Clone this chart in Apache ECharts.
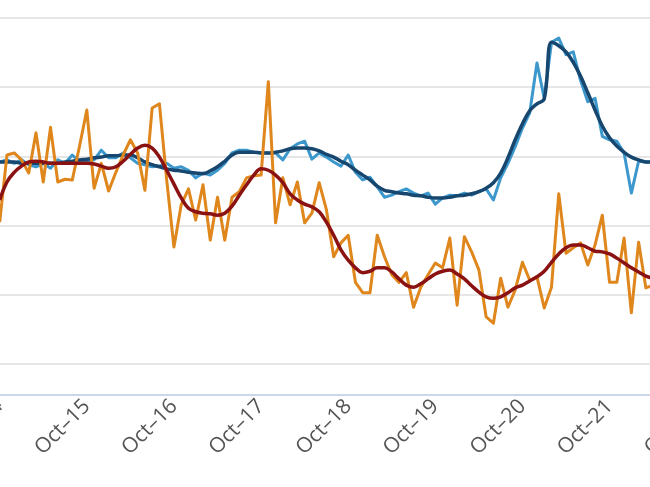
<!DOCTYPE html>
<html><head><meta charset="utf-8">
<script src="https://cdn.jsdelivr.net/npm/echarts@6/dist/echarts.min.js"></script>
<style>
html,body{margin:0;padding:0;width:650px;height:487px;overflow:hidden;background:#fff}
#c{position:absolute;left:-20px;top:0;width:780px;height:487px}
</style></head>
<body><div id="c"></div>
<script>
// Month categories Oct-14 .. Oct-22
const MONTHS = ['Jan','Feb','Mar','Apr','May','Jun','Jul','Aug','Sep','Oct','Nov','Dec'];
const categories = [];
for (let y = 14; y <= 22; y++) {
  for (let m = 0; m < 12; m++) {
    if (y === 14 && m < 9) continue;
    if (y === 22 && m > 9) break;
    categories.push(MONTHS[m] + '–' + y);
  }
}

// Raw series (orange), starting Oct-14
const orangeRaw = [20.5,30.2,30.5,29.5,27.6,33.4,26.3,34.2,26.3,26.7,26.6,31.5,36.7,25.4,29.0,25.0,27.7,30.2,32.4,30.5,25.1,37.0,37.6,26.6,16.9,23.0,25.3,20.8,25.9,17.9,24.1,17.9,24.1,24.9,26.9,27.2,27.3,40.8,20.4,26.9,23.0,26.3,20.4,21.8,26.2,22.3,15.5,17.5,18.6,11.8,10.3,10.3,18.6,15.5,12.9,11.8,13.2,8.2,11.1,12.9,14.6,13.9,18.2,8.5,18.4,16.2,13.6,6.8,5.9,12.4,8.2,10.7,14.7,12.1,12.6,8.1,11.1,24.6,16.0,16.8,17.5,14.3,17.2,21.5,11.8,11.8,18.2,7.4,17.6,11.0,11.4];

// Smoothed trend of orange (dark red)
const orangeTrend = [23.7,26.3,27.7,28.6,29.2,29.3,29.2,29.0,29.0,29.0,29.0,29.0,29.0,28.9,28.6,28.3,28.5,29.3,30.3,31.2,31.6,31.2,29.9,28.0,26.0,24.0,22.5,22.0,21.8,21.7,21.5,21.8,22.8,24.4,25.9,27.3,28.2,28.0,27.3,26.2,24.6,23.7,23.1,22.7,22.0,20.5,18.6,16.5,15.0,13.9,13.2,13.4,13.9,13.9,13.3,12.3,11.4,11.1,11.6,12.3,13.0,13.4,13.6,13.0,12.3,11.3,10.4,9.7,9.5,9.7,10.3,11.0,11.4,12.0,12.6,13.4,14.7,15.9,16.8,17.2,17.2,16.8,16.3,16.2,15.9,15.3,14.6,13.9,13.3,12.7,12.4];

// Raw series (light blue)
const blueRaw = [29.2,29.5,29.0,29.5,28.8,28.5,29.0,28.3,29.5,29.0,30.2,29.2,29.2,29.5,30.9,29.8,29.8,30.5,29.8,29.0,28.8,28.5,28.6,29.0,28.3,28.5,28.0,26.9,27.6,27.3,28.0,29.0,30.5,30.9,30.9,30.6,30.5,30.5,30.5,29.5,31.1,31.8,32.2,29.6,30.5,29.9,29.2,28.6,30.2,27.7,26.6,27.0,25.6,24.1,24.4,24.9,25.3,24.7,24.3,24.7,23.1,24.0,24.4,24.3,24.7,24.4,24.9,25.3,23.7,26.9,29.0,31.4,34.1,36.3,43.5,38.4,46.5,47.1,44.7,45.1,41.0,37.9,38.4,32.9,32.4,32.2,30.5,24.7,29.3,29.2,29.2];

// Smoothed trend of blue (dark blue)
const blueTrend = [29.2,29.2,29.2,29.0,29.0,29.0,29.0,29.0,29.0,29.2,29.3,29.5,29.6,29.8,29.9,30.1,30.1,30.2,30.2,29.8,29.2,28.8,28.5,28.2,28.0,27.9,27.7,27.6,27.5,27.9,28.5,29.3,30.2,30.6,30.6,30.6,30.5,30.5,30.6,30.8,31.1,31.2,31.2,31.1,30.8,30.3,29.9,29.3,28.8,28.0,27.3,26.6,25.7,25.1,24.9,24.7,24.6,24.4,24.3,24.1,24.0,24.0,24.1,24.3,24.4,24.6,24.9,25.4,26.2,27.6,29.8,32.4,34.7,36.6,37.6,38.3,46.5,46.0,45.1,43.6,41.6,39.2,36.7,34.4,32.7,31.5,30.6,29.9,29.5,29.2,29.2];

const yTicks = {min: 0, max: 50, step: 10};

const chart = echarts.init(document.getElementById('c'), null, {renderer: 'canvas'});
const line = (name, data, color, smooth, width) => ({
  name, type: 'line', data, smooth, symbol: 'none',
  lineStyle: {color, width, join: 'round'}, itemStyle: {color}, z: 2
});
chart.setOption({
  animation: false,
  backgroundColor: '#fff',
  grid: {left: 19.7, top: 18, width: 697, height: 346, containLabel: false, outerBoundsMode: 'none'},
  xAxis: {
    type: 'category', data: categories, boundaryGap: false, offset: 31,
    axisLine: {onZero: false, lineStyle: {color: '#ccd6eb', width: 2}},
    axisTick: {show: false},
    splitLine: {show: false},
    axisLabel: {
      interval: (i, v) => v.startsWith('Oct'),
      rotate: 45, margin: 8, color: '#555', fontSize: 21,
      fontFamily: 'Open Sans'
    }
  },
  yAxis: {
    type: 'value', min: yTicks.min, max: yTicks.max, interval: yTicks.step,
    axisLabel: {show: false}, axisLine: {show: false}, axisTick: {show: false},
    splitLine: {lineStyle: {color: '#dedede', width: 1.5}}
  },
  series: [
    line('Blue', blueRaw, '#3c98cc', false, 3),
    line('Blue trend', blueTrend, '#17466f', 0.4, 3.5),
    line('Orange', orangeRaw, '#df861c', false, 3),
    line('Orange trend', orangeTrend, '#8b1212', 0.4, 3.5)
  ]
});
</script>
</body></html>
